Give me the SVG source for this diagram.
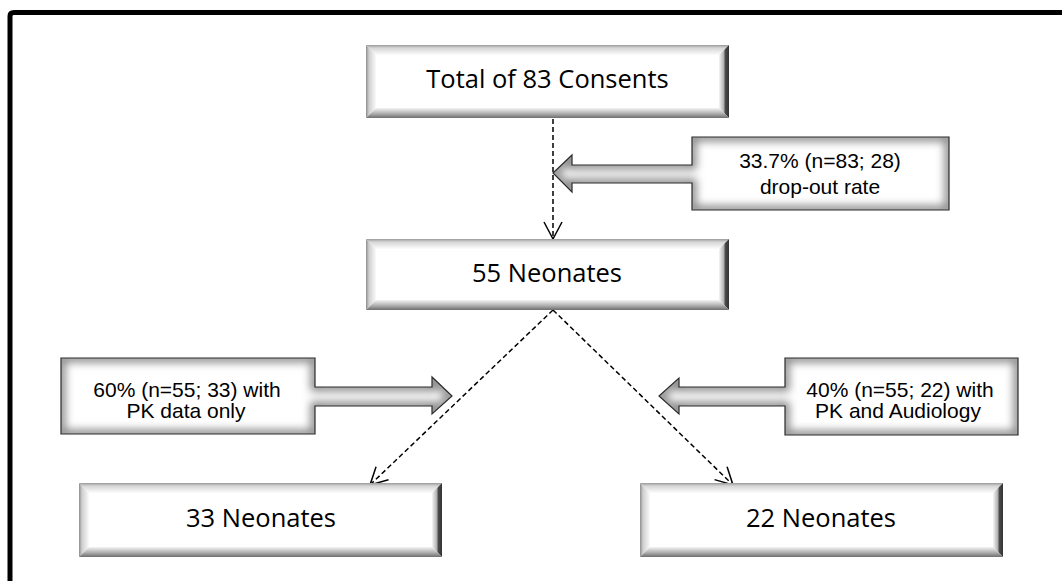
<svg xmlns="http://www.w3.org/2000/svg" xmlns:xlink="http://www.w3.org/1999/xlink" width="1062" height="581" viewBox="0 0 1062 581">
<defs>
<style>
.main{font-family:"Open Sans","Noto Sans",sans-serif;font-size:25.5px;fill:#000;text-anchor:middle}
.call{font-family:"Liberation Sans",Arial,sans-serif;font-size:21px;fill:#000;text-anchor:middle}
.bt{fill:url(#gTop)}.bl{fill:url(#gLeft)}.br{fill:url(#gRight)}.bb{fill:url(#gBottom)}
.in{fill:#fff}
.cfill{fill:#fff;stroke:none}
.cshade{fill:none;stroke:#8a8a8a;stroke-width:9;filter:url(#blur)}
.cline{fill:none;stroke:#2a2a2a;stroke-width:1.2}
.dash{fill:none;stroke:#000;stroke-width:1.5;stroke-dasharray:5,3;marker-end:url(#ah)}
</style>
<linearGradient id="gTop" x1="0" y1="0" x2="0" y2="1"><stop offset="0" stop-color="#9a9a9a"/><stop offset="0.3" stop-color="#d6d6d6"/><stop offset="1" stop-color="#fcfcfc"/></linearGradient>
<linearGradient id="gLeft" x1="0" y1="0" x2="1" y2="0"><stop offset="0" stop-color="#8e8e8e"/><stop offset="0.3" stop-color="#cfcfcf"/><stop offset="1" stop-color="#fafafa"/></linearGradient>
<linearGradient id="gRight" x1="0" y1="0" x2="1" y2="0"><stop offset="0" stop-color="#f6f6f6"/><stop offset="0.45" stop-color="#b5b5b5"/><stop offset="0.65" stop-color="#4a4a4a"/><stop offset="1" stop-color="#333"/></linearGradient>
<linearGradient id="gBottom" x1="0" y1="0" x2="0" y2="1"><stop offset="0" stop-color="#f4f4f4"/><stop offset="0.55" stop-color="#b0b0b0"/><stop offset="1" stop-color="#6e6e6e"/></linearGradient>
<filter id="blur" x="-20%" y="-40%" width="140%" height="180%"><feGaussianBlur stdDeviation="4"/></filter>
<path id="p1" d="M692,137 H949 V210 H692 V183 H572 V192 L553,173 L572,155 V165 H692 Z"/>
<path id="p2" d="M61,358 H315 V387 H432 V377 L452,396 L432,414 V406 H315 V434 H61 Z"/>
<path id="p3" d="M785,358 H1018 V435 H785 V406 H679 V414 L659,396 L679,378 V387 H785 Z"/>
<clipPath id="cp1"><use xlink:href="#p1"/></clipPath>
<clipPath id="cp2"><use xlink:href="#p2"/></clipPath>
<clipPath id="cp3"><use xlink:href="#p3"/></clipPath>
<marker id="ah" viewBox="0 0 20 20" refX="18" refY="10" markerWidth="20" markerHeight="20" markerUnits="userSpaceOnUse" orient="auto">
<path d="M1,1 L18,10 L1,19" fill="none" stroke="#000" stroke-width="1.5"/>
</marker>
</defs>
<rect width="1062" height="581" fill="#fff"/>
<path d="M10,700 V16 Q10,12.5 14,12.5 H1100" fill="none" stroke="#000" stroke-width="5"/>

<g id="connectors">
<line class="dash" x1="553" y1="119" x2="553" y2="239"/>
<line class="dash" x1="553" y1="310" x2="370" y2="485"/>
<line class="dash" x1="553" y1="310" x2="733" y2="485"/>
</g>

<g id="n-total">
<polygon class="bt" points="366,45 729,45 719,55 376,55"/>
<polygon class="bl" points="366,45 376,55 376,108 366,118"/>
<polygon class="br" points="729,45 729,118 719,108 719,55"/>
<polygon class="bb" points="366,118 729,118 719,108 376,108"/>
<rect class="in" x="376" y="55" width="343" height="53"/>
<text class="main" x="547.5" y="88">Total of 83 Consents</text>
</g>

<g id="n-55">
<polygon class="bt" points="366,239 729,239 719,249 376,249"/>
<polygon class="bl" points="366,239 376,249 376,300 366,310"/>
<polygon class="br" points="729,239 729,310 719,300 719,249"/>
<polygon class="bb" points="366,310 729,310 719,300 376,300"/>
<rect class="in" x="376" y="249" width="343" height="51"/>
<text class="main" x="547" y="282">55 Neonates</text>
</g>

<g id="n-33">
<polygon class="bt" points="79,483 442,483 432,493 89,493"/>
<polygon class="bl" points="79,483 89,493 89,547 79,557"/>
<polygon class="br" points="442,483 442,557 432,547 432,493"/>
<polygon class="bb" points="79,557 442,557 432,547 89,547"/>
<rect class="in" x="89" y="493" width="343" height="54"/>
<text class="main" x="261" y="527">33 Neonates</text>
</g>

<g id="n-22">
<polygon class="bt" points="640,483 1003,483 993,493 650,493"/>
<polygon class="bl" points="640,483 650,493 650,547 640,557"/>
<polygon class="br" points="1003,483 1003,557 993,547 993,493"/>
<polygon class="bb" points="640,557 1003,557 993,547 650,547"/>
<rect class="in" x="650" y="493" width="343" height="54"/>
<text class="main" x="821" y="527">22 Neonates</text>
</g>

<g id="c-dropout">
<use xlink:href="#p1" class="cfill"/>
<g clip-path="url(#cp1)"><use xlink:href="#p1" class="cshade"/></g>
<use xlink:href="#p1" class="cline"/>
<text class="call" x="820" y="168">33.7% (n=83; 28)</text>
<text class="call" x="820" y="194">drop-out rate</text>
</g>

<g id="c-pk">
<use xlink:href="#p2" class="cfill"/>
<g clip-path="url(#cp2)"><use xlink:href="#p2" class="cshade"/></g>
<use xlink:href="#p2" class="cline"/>
<text class="call" x="187" y="397">60% (n=55; 33) with</text>
<text class="call" x="186" y="418">PK data only</text>
</g>

<g id="c-audio">
<use xlink:href="#p3" class="cfill"/>
<g clip-path="url(#cp3)"><use xlink:href="#p3" class="cshade"/></g>
<use xlink:href="#p3" class="cline"/>
<text class="call" x="900" y="397">40% (n=55; 22) with</text>
<text class="call" x="898" y="418">PK and Audiology</text>
</g>
</svg>
